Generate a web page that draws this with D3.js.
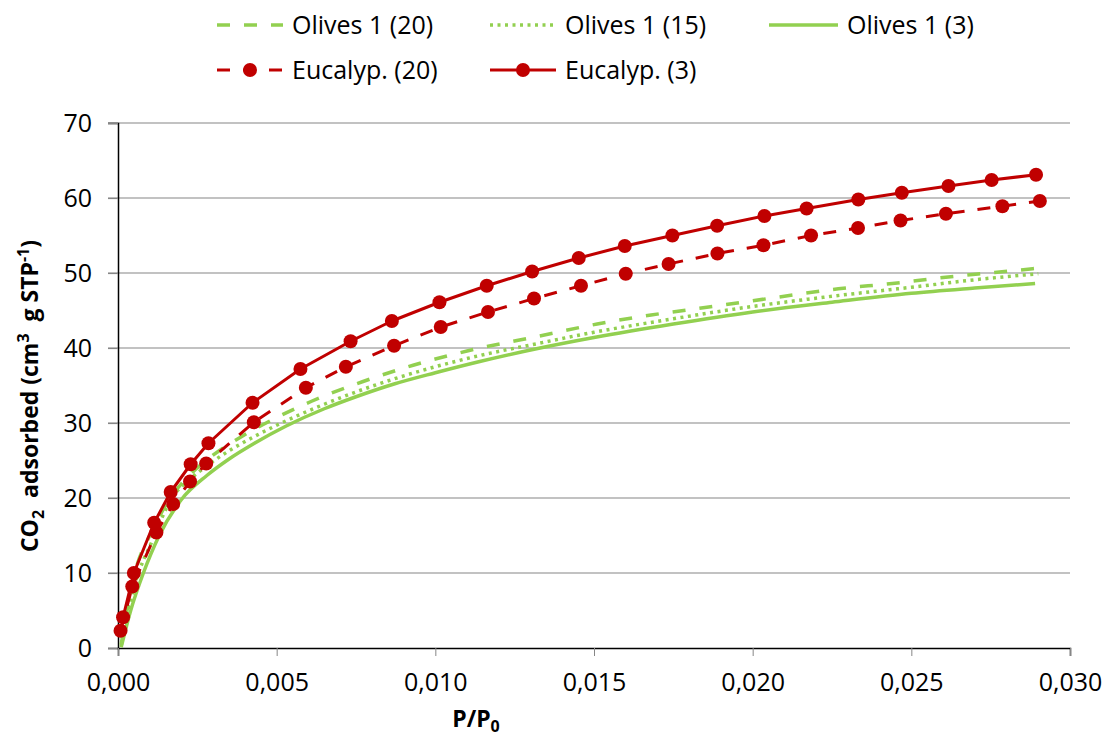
<!DOCTYPE html>
<head>
  <meta charset="utf-8">
  <title>CO2 adsorption isotherms</title>
  <script src="https://d3js.org/d3.v7.min.js"></script>
  <style>
    body { margin: 0px; background: white; }
    text { font-family: "Open Sans", sans-serif; fill: black; }
    .tick text { font-size: 25px; }
    .legend text { font-size: 25px; }
    .title { font-weight: bold; font-size: 23px; }
  </style>
</head>
<body>
<svg width="1106" height="740"></svg>
<script>
  // P/P0 , CO2 adsorbed
  var olives20 = [[0.0001,0.5],[0.0005,9.5],[0.0011,15.8],[0.0016,19.7],[0.0022,22.8],[0.0029,25.4],[0.0039,28.2],[0.0048,30.3],[0.0061,32.9],[0.0077,35.5],[0.0093,37.7],[0.0110,39.6],[0.0134,41.7],[0.0151,43.2],[0.0168,44.4],[0.0185,45.4],[0.0210,46.9],[0.0227,47.9],[0.0244,48.6],[0.0260,49.4],[0.0277,50.1],[0.0289,50.6]];
  var olives15 = [[0.0001,0.3],[0.0005,8.0],[0.0011,14.5],[0.0017,20.0],[0.0023,22.6],[0.0029,24.6],[0.0035,26.3],[0.0043,28.2],[0.0050,29.7],[0.0065,32.5],[0.0080,34.9],[0.0100,37.5],[0.0114,39.0],[0.0130,40.4],[0.0150,42.1],[0.0175,43.9],[0.0196,45.3],[0.0225,46.9],[0.0250,48.1],[0.0270,49.1],[0.0290,49.9]];
  var olives3 = [[0.0001,0.1],[0.0004,5.0],[0.0008,10.0],[0.0013,15.0],[0.0020,19.8],[0.0028,23.0],[0.0035,25.2],[0.0043,27.3],[0.0053,29.6],[0.0065,31.9],[0.0075,33.5],[0.0087,35.2],[0.0100,36.7],[0.0114,38.2],[0.0133,40.0],[0.0150,41.4],[0.0175,43.2],[0.0200,44.8],[0.0225,46.1],[0.0250,47.3],[0.0270,48.0],[0.0289,48.6]];
  var euc20 = [[0.00008,2.3],[0.00045,8.2],[0.00121,15.4],[0.00174,19.2],[0.00227,22.2],[0.00278,24.6],[0.00428,30.1],[0.00592,34.7],[0.00718,37.5],[0.0087,40.3],[0.01017,42.8],[0.01166,44.8],[0.01311,46.6],[0.01459,48.3],[0.0160,49.9],[0.01735,51.2],[0.01889,52.6],[0.02034,53.7],[0.02184,55.0],[0.02332,56.0],[0.02466,57.0],[0.02609,57.9],[0.02787,58.9],[0.02905,59.6]];
  var euc3 = [[0.00016,4.1],[0.0005,10.0],[0.00114,16.7],[0.00166,20.8],[0.00229,24.5],[0.00285,27.3],[0.00424,32.7],[0.00575,37.2],[0.00733,40.9],[0.00863,43.6],[0.01013,46.1],[0.01162,48.3],[0.01305,50.2],[0.01452,52.0],[0.01597,53.6],[0.01747,55.0],[0.01888,56.3],[0.02037,57.6],[0.0217,58.6],[0.02333,59.8],[0.0247,60.7],[0.02617,61.6],[0.02753,62.4],[0.02893,63.1]];

  var xTicks = [0, 0.005, 0.010, 0.015, 0.020, 0.025, 0.030];
  var yTicks = [0, 10, 20, 30, 40, 50, 60, 70];

  var green = "#92D050", red = "#C00000";
  var series = [
    { name: "Olives 1 (20)", data: olives20, color: green, dash: "13,14", width: 3.5, marker: false, smooth: true },
    { name: "Olives 1 (15)", data: olives15, color: green, dash: "3,4.5", width: 3.5, marker: false, smooth: true },
    { name: "Olives 1 (3)",  data: olives3,  color: green, dash: null,    width: 3.5, marker: false, smooth: true },
    { name: "Eucalyp. (20)", data: euc20,    color: red,   dash: "13,13", width: 3,   marker: true,  smooth: false },
    { name: "Eucalyp. (3)",  data: euc3,     color: red,   dash: null,    width: 3,   marker: true,  smooth: false }
  ];

  var svg = d3.select("svg");
  var margin = { top: 123, left: 118, right: 36, bottom: 92 };
  var plot = { width: 1106 - margin.left - margin.right, height: 740 - margin.top - margin.bottom };

  var x = d3.scaleLinear().domain([0, 0.030]).range([margin.left, margin.left + plot.width]);
  var y = d3.scaleLinear().domain([0, 70]).range([margin.top + plot.height, margin.top]);
  var fmt = function(d) { return d3.format(".3f")(d).replace(".", ","); };

  // gridlines
  svg.append("g").selectAll("line").data(yTicks.slice(1)).enter().append("line")
    .attr("x1", margin.left - 10).attr("x2", x(0.030))
    .attr("y1", function(d) { return y(d); }).attr("y2", function(d) { return y(d); })
    .attr("stroke", "#868686").attr("stroke-width", 1.2);

  // y axis
  var gy = svg.append("g").attr("transform", translate(margin.left, 0))
    .call(d3.axisLeft(y).tickValues(yTicks).tickSize(10).tickPadding(16));
  gy.select(".domain").attr("stroke", "black").attr("stroke-width", 1.5);
  gy.selectAll(".tick line").attr("stroke", "#868686").attr("stroke-width", 1.2);

  // x axis
  var gx = svg.append("g").attr("transform", translate(0, y(0)))
    .call(d3.axisBottom(x).tickValues(xTicks).tickFormat(fmt).tickSize(8).tickPadding(16));
  gx.select(".domain").attr("stroke", "black").attr("stroke-width", 1.5);
  gx.selectAll(".tick line").attr("stroke", "#868686");
  gx.selectAll(".tick text").attr("dy", "0.75em");

  // series
  series.forEach(function(s) {
    var line = d3.line()
      .x(function(d) { return x(d[0]); })
      .y(function(d) { return y(d[1]); })
      .curve(s.smooth ? d3.curveMonotoneX : d3.curveLinear);
    svg.append("path").datum(s.data)
      .attr("d", line)
      .attr("fill", "none")
      .attr("stroke", s.color)
      .attr("stroke-width", s.width)
      .attr("stroke-dasharray", s.dash)
      .attr("stroke-linejoin", "round");
    if (s.marker) {
      svg.append("g").selectAll("circle").data(s.data).enter().append("circle")
        .attr("cx", function(d) { return x(d[0]); })
        .attr("cy", function(d) { return y(d[1]); })
        .attr("r", 7)
        .attr("fill", s.color);
    }
  });

  // axis titles
  var xt = svg.append("text").attr("class", "title")
    .attr("x", 476).attr("y", 727).attr("text-anchor", "middle");
  xt.append("tspan").text("P/P");
  xt.append("tspan").attr("dy", 5).attr("font-size", 16).text("0");

  var yt = svg.append("text").attr("class", "title")
    .attr("transform", "translate(38,396) rotate(-90)").attr("text-anchor", "middle");
  yt.append("tspan").text("CO");
  yt.append("tspan").attr("dy", 6).attr("font-size", 16).text("2");
  yt.append("tspan").attr("dy", -6).text("\u00a0 adsorbed (cm");
  yt.append("tspan").attr("dy", -9).attr("font-size", 16).text("3");
  yt.append("tspan").attr("dy", 9).text("\u00a0 g STP");
  yt.append("tspan").attr("dy", -9).attr("font-size", 16).text("-1");
  yt.append("tspan").attr("dy", 9).text(")");

  // legend
  var legendPos = [[217, 25], [490, 25], [769, 25], [217, 70], [490, 70]];
  var lg = svg.append("g").attr("class", "legend");
  series.forEach(function(s, i) {
    var p = legendPos[i];
    var sampleW = i == 2 ? 69 : 66;
    var item = lg.append("g").attr("transform", translate(p[0], p[1]));
    item.append("line")
      .attr("x1", 0).attr("x2", sampleW).attr("y1", 0).attr("y2", 0)
      .attr("stroke", s.color).attr("stroke-width", s.width)
      .attr("stroke-dasharray", s.dash);
    if (s.marker) {
      item.append("circle").attr("cx", sampleW / 2).attr("cy", 0).attr("r", 7).attr("fill", s.color);
    }
    item.append("text").attr("x", sampleW + 9).attr("y", 0).attr("dy", "0.35em").text(s.name);
  });

  function translate(a, b) {
    return "translate(" + String(a) + "," + String(b) + ")";
  }
</script>
</body>
</html>
